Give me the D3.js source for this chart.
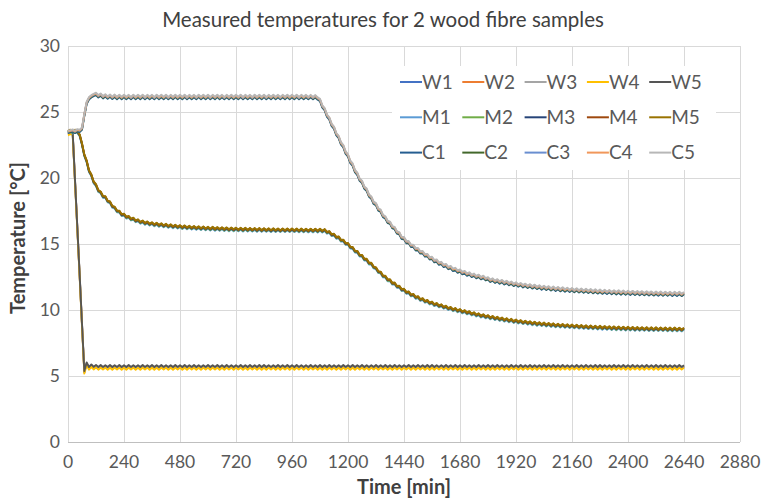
<!DOCTYPE html>
<html>
<head>
<meta charset="utf-8">
<script src="https://cdn.jsdelivr.net/npm/d3@7"></script>
<style>
    body { margin: 0; background: #fff; }
    svg { width: 765px; height: 499px; display: block; font-family: Lato, "Open Sans", sans-serif; }
</style>
</head>
<body>
<svg></svg>
<script>
// Series names, colours and the group curve each one follows
const seriesNames = ["W1", "W2", "W3", "W4", "W5", "M1", "M2", "M3", "M4", "M5", "C1", "C2", "C3", "C4", "C5"];
const seriesColors = ["#4472C4", "#ED7D31", "#A5A5A5", "#FFC000", "#555555",
                      "#5B9BD5", "#70AD47", "#264478", "#9E480E", "#997300",
                      "#255E91", "#43682B", "#698ED0", "#F1975A", "#B7B7B7"];
const seriesGroup = ["W", "W", "W", "W", "W", "M", "M", "M", "M", "M", "C", "C", "C", "C", "C"];
// small spread of each sensor around its group curve [°C]
const seriesShift = [-0.03, 0, 0.01, -0.12, 0.08, -0.08, -0.04, 0, 0.03, 0.06, -0.1, -0.05, 0, 0.03, 0.08];

// measured temperature every 10 min (one row = 120 min)
const timeStep = 10;
const tempW = [
    23.35, 23.45, 23.4, 19.8, 16.2, 12.6, 8.9, 5.3, 5.95, 5.6, 5.8, 5.62,
    5.76, 5.6, 5.75, 5.61, 5.74, 5.6, 5.75, 5.6, 5.74, 5.61, 5.75, 5.6,
    5.74, 5.6, 5.75, 5.61, 5.74, 5.6, 5.74, 5.6, 5.75, 5.61, 5.74, 5.6,
    5.75, 5.6, 5.74, 5.6, 5.75, 5.61, 5.74, 5.6, 5.74, 5.6, 5.75, 5.61,
    5.74, 5.6, 5.75, 5.6, 5.74, 5.61, 5.75, 5.6, 5.74, 5.6, 5.74, 5.61,
    5.75, 5.6, 5.74, 5.61, 5.75, 5.6, 5.74, 5.6, 5.75, 5.61, 5.74, 5.6,
    5.74, 5.61, 5.75, 5.6, 5.74, 5.6, 5.75, 5.61, 5.74, 5.6, 5.75, 5.6,
    5.75, 5.6, 5.74, 5.61, 5.74, 5.6, 5.75, 5.6, 5.74, 5.61, 5.75, 5.6,
    5.74, 5.6, 5.75, 5.61, 5.74, 5.6, 5.74, 5.6, 5.75, 5.61, 5.74, 5.6,
    5.75, 5.6, 5.74, 5.6, 5.75, 5.61, 5.74, 5.6, 5.74, 5.6, 5.75, 5.61,
    5.74, 5.6, 5.75, 5.6, 5.74, 5.61, 5.75, 5.6, 5.74, 5.6, 5.74, 5.61,
    5.75, 5.6, 5.74, 5.61, 5.75, 5.6, 5.74, 5.6, 5.75, 5.61, 5.74, 5.6,
    5.74, 5.61, 5.75, 5.6, 5.74, 5.6, 5.75, 5.61, 5.74, 5.6, 5.75, 5.6,
    5.75, 5.6, 5.74, 5.61, 5.74, 5.6, 5.75, 5.6, 5.74, 5.61, 5.75, 5.6,
    5.74, 5.6, 5.75, 5.61, 5.74, 5.6, 5.74, 5.6, 5.75, 5.61, 5.74, 5.6,
    5.75, 5.6, 5.74, 5.6, 5.75, 5.61, 5.74, 5.6, 5.74, 5.6, 5.75, 5.61,
    5.74, 5.6, 5.75, 5.6, 5.74, 5.61, 5.75, 5.6, 5.74, 5.6, 5.74, 5.61,
    5.75, 5.6, 5.74, 5.61, 5.75, 5.6, 5.74, 5.6, 5.75, 5.61, 5.74, 5.6,
    5.74, 5.61, 5.75, 5.6, 5.74, 5.6, 5.75, 5.61, 5.74, 5.6, 5.75, 5.6,
    5.75, 5.6, 5.74, 5.61, 5.74, 5.6, 5.75, 5.6, 5.74, 5.61, 5.75, 5.6,
    5.74, 5.6, 5.75, 5.61, 5.74, 5.6, 5.74, 5.6, 5.75, 5.61, 5.74, 5.6,
    5.75, 5.6, 5.74, 5.6, 5.75, 5.61, 5.74, 5.6, 5.74, 5.6, 5.75, 5.61,
    5.74
];
const tempM = [
    23.5, 23.6, 23.45, 23.6, 23.5, 23.25, 22.57, 21.73, 21.27, 20.53, 20.22, 19.68,
    19.47, 19.03, 18.92, 18.58, 18.57, 18.23, 18.17, 17.83, 17.77, 17.48, 17.47, 17.2,
    17.24, 17.01, 17.07, 16.86, 16.94, 16.73, 16.81, 16.62, 16.72, 16.54, 16.65, 16.48,
    16.59, 16.43, 16.55, 16.39, 16.51, 16.35, 16.47, 16.31, 16.43, 16.28, 16.4, 16.25,
    16.37, 16.22, 16.35, 16.2, 16.32, 16.18, 16.3, 16.16, 16.28, 16.14, 16.27, 16.12,
    16.25, 16.1, 16.24, 16.09, 16.22, 16.08, 16.21, 16.07, 16.2, 16.05, 16.19, 16.05,
    16.18, 16.04, 16.17, 16.03, 16.17, 16.02, 16.16, 16.02, 16.15, 16.01, 16.15, 16.0,
    16.14, 16.0, 16.13, 15.99, 16.13, 15.99, 16.12, 15.98, 16.12, 15.98, 16.12, 15.98,
    16.12, 15.98, 16.11, 15.97, 16.11, 15.97, 16.1, 15.96, 16.1, 15.96, 16.1, 15.95,
    16.1, 15.95, 16.07, 15.86, 15.92, 15.68, 15.72, 15.48, 15.52, 15.26, 15.27, 15.01,
    15.02, 14.73, 14.72, 14.43, 14.42, 14.13, 14.12, 13.83, 13.82, 13.53, 13.52, 13.23,
    13.17, 12.88, 12.85, 12.55, 12.54, 12.26, 12.27, 12.0, 12.02, 11.76, 11.78, 11.52,
    11.55, 11.31, 11.35, 11.11, 11.16, 10.93, 10.99, 10.77, 10.84, 10.63, 10.7, 10.5,
    10.58, 10.38, 10.47, 10.28, 10.37, 10.18, 10.27, 10.08, 10.17, 9.99, 10.09, 9.91,
    10.01, 9.83, 9.93, 9.75, 9.85, 9.67, 9.77, 9.59, 9.69, 9.51, 9.62, 9.45,
    9.55, 9.38, 9.49, 9.32, 9.43, 9.26, 9.37, 9.2, 9.32, 9.15, 9.27, 9.1,
    9.22, 9.06, 9.17, 9.01, 9.13, 8.97, 9.09, 8.93, 9.05, 8.89, 9.02, 8.86,
    8.99, 8.83, 8.96, 8.8, 8.93, 8.77, 8.9, 8.75, 8.88, 8.73, 8.86, 8.71,
    8.84, 8.69, 8.82, 8.67, 8.8, 8.65, 8.78, 8.63, 8.77, 8.62, 8.75, 8.6,
    8.74, 8.59, 8.72, 8.58, 8.71, 8.56, 8.7, 8.55, 8.69, 8.54, 8.68, 8.53,
    8.67, 8.52, 8.66, 8.51, 8.65, 8.51, 8.64, 8.5, 8.64, 8.49, 8.63, 8.49,
    8.63, 8.48, 8.62, 8.48, 8.62, 8.47, 8.61, 8.47, 8.61, 8.46, 8.6, 8.46,
    8.6
];
const tempC = [
    23.5, 23.55, 23.6, 23.5, 23.62, 23.58, 23.75, 24.8, 25.7, 26.05, 26.2, 26.3,
    26.38, 26.2, 26.32, 26.13, 26.27, 26.1, 26.25, 26.08, 26.24, 26.07, 26.23, 26.07,
    26.23, 26.07, 26.22, 26.06, 26.23, 26.07, 26.22, 26.07, 26.23, 26.06, 26.22, 26.07,
    26.22, 26.06, 26.23, 26.07, 26.22, 26.07, 26.23, 26.06, 26.22, 26.07, 26.23, 26.07,
    26.22, 26.07, 26.23, 26.06, 26.22, 26.07, 26.22, 26.06, 26.23, 26.07, 26.22, 26.07,
    26.23, 26.06, 26.22, 26.07, 26.23, 26.07, 26.22, 26.06, 26.22, 26.07, 26.23, 26.07,
    26.22, 26.07, 26.23, 26.06, 26.22, 26.07, 26.22, 26.06, 26.23, 26.07, 26.22, 26.07,
    26.23, 26.06, 26.22, 26.07, 26.23, 26.07, 26.22, 26.06, 26.22, 26.07, 26.23, 26.07,
    26.22, 26.07, 26.23, 26.06, 26.22, 26.07, 26.22, 26.06, 26.22, 26.06, 26.2, 26.03,
    25.92, 25.43, 25.22, 24.73, 24.52, 24.03, 23.82, 23.33, 23.12, 22.63, 22.42, 21.93,
    21.72, 21.23, 21.02, 20.53, 20.32, 19.88, 19.72, 19.28, 19.12, 18.68, 18.52, 18.13,
    18.02, 17.63, 17.52, 17.13, 17.02, 16.68, 16.62, 16.28, 16.22, 15.88, 15.82, 15.48,
    15.45, 15.16, 15.15, 14.87, 14.87, 14.61, 14.62, 14.37, 14.39, 14.14, 14.17, 13.92,
    13.95, 13.71, 13.75, 13.52, 13.57, 13.35, 13.41, 13.19, 13.26, 13.05, 13.12, 12.92,
    13.0, 12.8, 12.88, 12.69, 12.78, 12.59, 12.68, 12.5, 12.6, 12.42, 12.52, 12.34,
    12.4, 12.22, 12.32, 12.15, 12.26, 12.09, 12.2, 12.03, 12.14, 11.97, 12.08, 11.91,
    12.02, 11.86, 11.97, 11.81, 11.92, 11.76, 11.88, 11.72, 11.84, 11.68, 11.8, 11.64,
    11.76, 11.61, 11.73, 11.57, 11.7, 11.54, 11.67, 11.51, 11.64, 11.49, 11.61, 11.46,
    11.59, 11.44, 11.57, 11.42, 11.55, 11.4, 11.53, 11.38, 11.51, 11.36, 11.49, 11.34,
    11.47, 11.32, 11.45, 11.31, 11.44, 11.29, 11.42, 11.28, 11.41, 11.26, 11.4, 11.25,
    11.38, 11.24, 11.37, 11.23, 11.36, 11.22, 11.35, 11.21, 11.34, 11.2, 11.33, 11.19,
    11.32, 11.18, 11.32, 11.17, 11.31, 11.17, 11.31, 11.16, 11.3, 11.16, 11.3, 11.15,
    11.29
];
const groupTemps = { W: tempW, M: tempM, C: tempC };

const xTicks = [0, 240, 480, 720, 960, 1200, 1440, 1680, 1920, 2160, 2400, 2640, 2880];
const yTicks = [0, 5, 10, 15, 20, 25, 30];

function drawChart() {
    let svg = d3.select("svg");
    svg.selectAll("*").remove();

    // plot area
    const area = { left: 68, right: 740, top: 46, bottom: 442 };

    let scX = d3.scaleLinear().domain([0, 2880]).range([area.left, area.right]);
    let scY = d3.scaleLinear().domain([0, 30]).range([area.bottom, area.top]);

    // gridlines
    svg.append("g")
        .attr("transform", `translate(0, ${area.bottom})`)
        .call(d3.axisBottom(scX).tickValues(xTicks).tickSize(-(area.bottom - area.top)).tickFormat(""))
        .call(g => g.select(".domain").remove())
        .selectAll("line").attr("stroke", "#d9d9d9");

    svg.append("g")
        .attr("transform", `translate(${area.left}, 0)`)
        .call(d3.axisLeft(scY).tickValues(yTicks).tickSize(-(area.right - area.left)).tickFormat(""))
        .call(g => g.select(".domain").remove())
        .selectAll("line").attr("stroke", "#d9d9d9");

    // x axis baseline
    svg.append("line")
        .attr("x1", area.left).attr("x2", area.right)
        .attr("y1", scY(0) + 0.5).attr("y2", scY(0) + 0.5)
        .attr("stroke", "#bfbfbf");

    // tick labels
    svg.append("g").selectAll("text")
        .data(xTicks).enter().append("text")
        .attr("x", d => scX(d))
        .attr("y", 468)
        .attr("text-anchor", "middle")
        .attr("font-size", 17.5)
        .attr("fill", "#595959")
        .text(d => d);

    svg.append("g").selectAll("text")
        .data(yTicks).enter().append("text")
        .attr("x", 60)
        .attr("y", d => scY(d) + 6)
        .attr("text-anchor", "end")
        .attr("font-size", 17.5)
        .attr("fill", "#595959")
        .text(d => d);

    // lines
    let line = d3.line()
        .x((d, i) => scX(i * timeStep))
        .y(d => scY(d));

    seriesNames.forEach((name, k) => {
        const values = groupTemps[seriesGroup[k]].map(v => v + seriesShift[k]);
        svg.append("path")
            .datum(values)
            .attr("fill", "none")
            .attr("stroke", seriesColors[k])
            .attr("stroke-width", 1.9)
            .attr("stroke-linejoin", "round")
            .attr("d", line);
    });

    // legend
    let legend = svg.append("g");
    legend.append("rect")
        .attr("x", 392).attr("y", 66)
        .attr("width", 324).attr("height", 104)
        .attr("fill", "#fff");

    seriesNames.forEach((name, k) => {
        const lx = 400 + (k % 5) * 62.3;
        const ly = 82 + Math.floor(k / 5) * 35.3;
        legend.append("line")
            .attr("x1", lx).attr("x2", lx + 22)
            .attr("y1", ly).attr("y2", ly)
            .attr("stroke", seriesColors[k])
            .attr("stroke-width", 2);
        legend.append("text")
            .attr("x", lx + 22)
            .attr("y", ly + 6.5)
            .attr("font-size", 19)
            .attr("fill", "#595959")
            .text(name);
    });

    // titles
    svg.append("text")
        .attr("x", 383).attr("y", 27)
        .attr("text-anchor", "middle")
        .attr("font-size", 20.5)
        .attr("fill", "#404040")
        .text("Measured temperatures for 2 wood fibre samples");

    svg.append("text")
        .attr("x", 404).attr("y", 494)
        .attr("text-anchor", "middle")
        .attr("font-size", 20)
        .attr("font-weight", "bold")
        .attr("fill", "#404040")
        .text("Time [min]");

    svg.append("text")
        .attr("transform", "translate(25, 238) rotate(-90)")
        .attr("text-anchor", "middle")
        .attr("font-size", 20)
        .attr("font-weight", "bold")
        .attr("fill", "#404040")
        .text("Temperature [°C]");
}

drawChart();
</script>
</body>
</html>
